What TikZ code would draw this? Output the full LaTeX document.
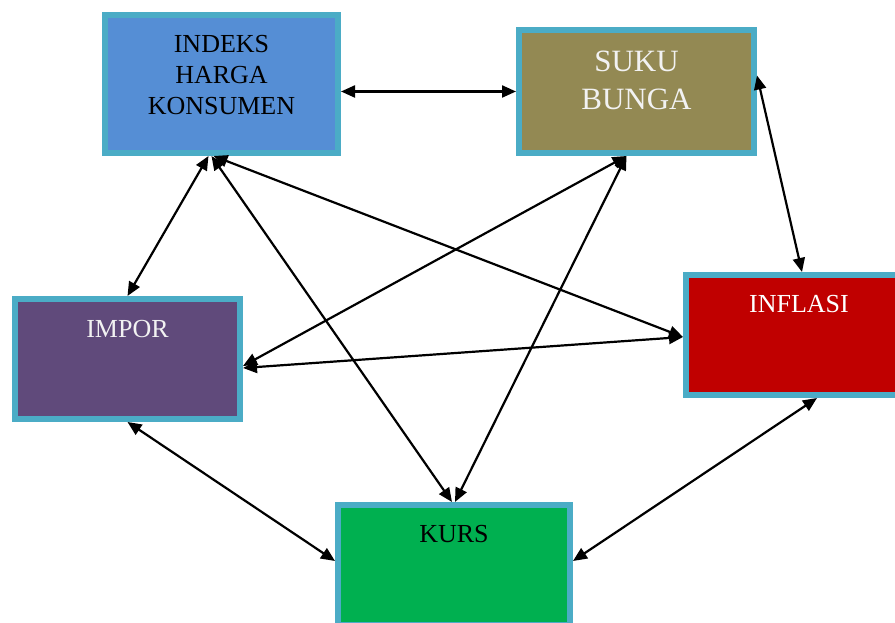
\documentclass[tikz,border=0pt]{standalone}
\usepackage{fontspec}
\setmainfont{Liberation Serif}
\usetikzlibrary{positioning,arrows.meta}
\definecolor{boxedge}{HTML}{4BACC6}
\definecolor{ihkblue}{HTML}{558ED5}
\definecolor{sukuolive}{HTML}{938953}
\definecolor{inflred}{HTML}{C00000}
\definecolor{imporpurple}{HTML}{604A7B}
\definecolor{kursgreen}{HTML}{00B050}
\definecolor{lighttext}{HTML}{F2F2F2}

\begin{document}
\begin{tikzpicture}[x=1pt,y=1pt,
  box/.style={draw=boxedge,line width=6pt,inner sep=0pt,minimum height=120pt},
  lbl/.style={inner sep=0pt,align=center,font=\fontsize{26}{31}\selectfont},
  link/.style={{Triangle[length=14pt,width=12pt]}-{Triangle[length=14pt,width=12pt]},line width=2.2pt}]
\useasboundingbox (0,0) rectangle (895,623);
\clip (0,0) rectangle (895,623);
% boxes
\node[box,fill=ihkblue,minimum width=233pt,minimum height=138pt] (ihk) at (221.5,539) {};
\node[box,fill=sukuolive,minimum width=235pt,minimum height=123pt] (suku) at (636.5,531.5) {};
\node[box,fill=inflred,minimum width=226pt] (inflasi) at (799,288) {};
\node[box,fill=imporpurple,minimum width=225pt] (impor) at (127.5,264) {};
\node[box,fill=kursgreen,minimum width=232pt] (kurs) at (454,58) {};
% texts
\node[lbl,below=23pt of ihk.north] (ihktext) {INDEKS\\HARGA\\KONSUMEN};
\node[lbl,text=lighttext,font=\fontsize{31}{38}\selectfont,below=24pt of suku.north] (sukutext) {SUKU\\BUNGA};
\node[lbl,text=white,below=23pt of inflasi.north] (inflasitext) {INFLASI};
\node[lbl,text=lighttext,below=24pt of impor.north] (importext) {IMPOR};
\node[lbl,below=23pt of kurs.north] (kurstext) {KURS};
% links
\draw[link] (ihk.east |- suku.west) -- (suku.west);
\draw[link] ([yshift=16pt]suku.east) -- ([xshift=119pt]inflasi.north west);
\draw[link] ([xshift=-13pt]ihk.south) -- (impor.north);
\draw[link] ([xshift=-8pt]ihk.south) -- ([yshift=-2pt]inflasi.west);
\draw[link] ([xshift=-10pt]ihk.south) -- ([xshift=-2pt]kurs.north);
\draw[link] ([xshift=-10pt]suku.south) -- ([yshift=-7pt]impor.east);
\draw[link] ([xshift=-10pt]suku.south) -- ([xshift=1pt]kurs.north);
\draw[link] ([yshift=-9pt]impor.east) -- ([yshift=-2pt]inflasi.west);
\draw[link] (impor.south) -- ([yshift=4pt]kurs.west);
\draw[link] ([yshift=4pt]kurs.east) -- ([xshift=134pt]inflasi.south west);
\end{tikzpicture}
\end{document}
